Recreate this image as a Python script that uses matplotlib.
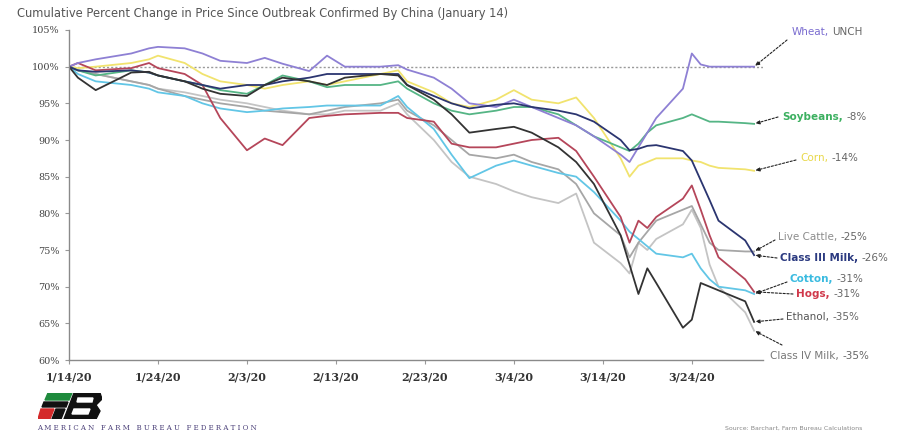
import matplotlib
matplotlib.use("Agg")
import matplotlib.pyplot as plt
from matplotlib.patches import Polygon
import pandas as pd

# trading dates (sampled) from the outbreak confirmation to end of March
dates = ["2020-01-14", "2020-01-15", "2020-01-17", "2020-01-21", "2020-01-23", "2020-01-24",
         "2020-01-27", "2020-01-29", "2020-01-31", "2020-02-03", "2020-02-05", "2020-02-07",
         "2020-02-10", "2020-02-12", "2020-02-14", "2020-02-18", "2020-02-20", "2020-02-21",
         "2020-02-24", "2020-02-26", "2020-02-28", "2020-03-02", "2020-03-04", "2020-03-06",
         "2020-03-09", "2020-03-11", "2020-03-13", "2020-03-16", "2020-03-17", "2020-03-18",
         "2020-03-19", "2020-03-20", "2020-03-23", "2020-03-24", "2020-03-25", "2020-03-26",
         "2020-03-27", "2020-03-30", "2020-03-31"]

wheat = [100, 100.5, 101, 101.8, 102.5, 102.7, 102.5, 101.8, 100.8, 100.5, 101.2, 100.4,
         99.4, 101.5, 100.0, 100.0, 100.2, 99.6, 98.5, 97.0, 95.0, 94.5, 95.5, 94.5,
         93.0, 92.0, 90.5, 88.0, 87.0, 89.0, 91.0, 93.0, 97.0, 101.8, 100.3, 100.0,
         100.0, 100.0, 100.0]
soybeans = [100, 99.5, 98.8, 99.5, 99.2, 98.8, 98.0, 97.5, 96.8, 96.3, 97.5, 98.8,
            98.0, 97.2, 97.5, 97.5, 98.0, 97.0, 95.0, 94.0, 93.5, 94.0, 94.5, 94.5,
            93.5, 92.0, 90.5, 89.0, 88.5, 89.5, 91.0, 92.0, 93.0, 93.5, 93.0, 92.5,
            92.5, 92.3, 92.2]
corn = [100, 99.8, 100.0, 100.5, 101.0, 101.5, 100.5, 99.0, 98.0, 97.5, 97.0, 97.5,
        98.0, 97.5, 98.0, 99.0, 99.5, 98.0, 96.5, 95.0, 94.5, 95.5, 96.8, 95.5,
        95.0, 95.8, 93.0, 87.5, 85.0, 86.5, 87.0, 87.5, 87.5, 87.2, 87.0, 86.5,
        86.2, 86.0, 85.8]
live_cattle = [100, 99.5, 99.0, 98.0, 97.5, 97.0, 96.0, 95.5, 95.0, 94.5, 94.0, 93.8,
               93.5, 94.0, 94.5, 95.0, 95.5, 94.0, 92.0, 90.0, 88.0, 87.5, 88.0, 87.0,
               86.0, 84.0, 80.0, 77.0, 74.0, 76.0, 77.5, 79.0, 80.5, 81.0, 78.5, 76.0,
               75.0, 74.8, 74.8]
class3_milk = [100, 99.5, 99.3, 99.5, 99.2, 98.8, 98.0, 97.5, 97.0, 97.5, 97.5, 98.0,
               98.5, 99.0, 99.0, 99.0, 99.0, 97.5, 96.0, 95.0, 94.3, 94.8, 95.0, 94.5,
               94.0, 93.5, 92.5, 90.0, 88.6, 88.8, 89.2, 89.3, 88.5, 87.2, 84.5, 81.8,
               79.0, 76.3, 74.3]
cotton = [100, 99.0, 98.0, 97.5, 97.0, 96.5, 96.0, 95.0, 94.3, 93.8, 94.0, 94.3,
          94.5, 94.7, 94.7, 94.7, 96.0, 94.5, 91.5, 88.0, 84.8, 86.5, 87.2, 86.5,
          85.5, 85.0, 82.9, 79.0, 77.5, 76.5, 75.5, 74.5, 74.0, 74.5, 72.5, 71.0,
          70.0, 69.5, 69.0]
hogs = [100, 100.5, 99.5, 99.8, 100.5, 99.8, 99.0, 97.5, 93.0, 88.6, 90.2, 89.3,
        93.0, 93.3, 93.5, 93.7, 93.7, 93.0, 92.5, 89.5, 89.0, 89.0, 89.5, 90.0,
        90.3, 88.5, 85.0, 79.5, 76.0, 79.0, 78.0, 79.5, 82.0, 83.8, 80.5, 77.0,
        74.0, 71.0, 69.3]
ethanol = [100, 98.5, 96.8, 99.2, 99.3, 98.8, 98.0, 97.0, 96.3, 96.0, 97.5, 98.5,
           98.0, 97.5, 98.5, 99.0, 98.8, 97.5, 95.5, 93.5, 91.0, 91.5, 91.8, 91.0,
           89.0, 87.0, 84.0, 77.0, 73.0, 69.0, 72.5, 70.5, 64.4, 65.5, 70.5, 70.0,
           69.5, 68.0, 65.2]
class4_milk = [100, 99.5, 99.0, 98.0, 97.5, 97.0, 96.5, 96.0, 95.5, 95.0, 94.5, 94.0,
               93.5, 93.5, 94.0, 94.0, 95.0, 93.5, 90.0, 87.0, 85.0, 84.0, 83.0, 82.2,
               81.4, 82.7, 76.0, 73.2, 71.8, 76.0, 75.0, 76.5, 78.5, 80.5, 78.0, 73.0,
               70.0, 66.5, 64.0]

series = [
    ("Class IV Milk", class4_milk, "#c4c4c4", "Class IV Milk,", "-35%"),
    ("Live Cattle", live_cattle, "#a6a6a6", "Live Cattle,", "-25%"),
    ("Cotton", cotton, "#62c6e6", "Cotton,", "-31%"),
    ("Corn", corn, "#f1e36e", "Corn,", "-14%"),
    ("Hogs", hogs, "#b5465a", "Hogs,", "-31%"),
    ("Soybeans", soybeans, "#55b585", "Soybeans,", "-8%"),
    ("Wheat", wheat, "#8e80d4", "Wheat,", "UNCH"),
    ("Class III Milk", class3_milk, "#2b3570", "Class III Milk,", "-26%"),
    ("Ethanol", ethanol, "#333333", "Ethanol,", "-35%"),
]

tick_dates = ["2020-01-14", "2020-01-24", "2020-02-03", "2020-02-13", "2020-02-23",
              "2020-03-04", "2020-03-14", "2020-03-24"]
tick_labels = ["1/14/20", "1/24/20", "2/3/20", "2/13/20", "2/23/20", "3/4/20", "3/14/20", "3/24/20"]
y_ticks = [60, 65, 70, 75, 80, 85, 90, 95, 100, 105]

x = pd.to_datetime(dates)

fig = plt.figure(figsize=(9.02, 4.33), dpi=100)
ax = fig.add_axes([69 / 902, 1 - 360 / 433, (763 - 69) / 902, 330 / 433])

ax.axhline(100, color="#9a9a9a", lw=1.0, ls=(0, (1.5, 1.5)), zorder=1)
for name, vals, col, lab, val in series:
    ax.plot(x, vals, color=col, lw=1.3, zorder=2)

ax.set_ylim(60, 105)
ax.set_xlim(pd.Timestamp("2020-01-14"), pd.Timestamp("2020-04-01"))
ax.set_yticks(y_ticks)
ax.set_yticklabels([f"{v}%" for v in y_ticks], fontsize=7, family="DejaVu Serif", color="#444444")
ax.set_xticks(pd.to_datetime(tick_dates))
ax.set_xticklabels(tick_labels, fontsize=8, family="DejaVu Serif", fontweight="bold", color="#333333")
ax.tick_params(axis="y", length=3, color="#999999", pad=4)
ax.tick_params(axis="x", length=3, color="#999999", pad=5)
for s in ["top", "right"]:
    ax.spines[s].set_visible(False)
for s in ["left", "bottom"]:
    ax.spines[s].set_color("#8a8a8a")
    ax.spines[s].set_linewidth(1.0)

# right-side labels: text position and pointer start, in figure pixels
label_pos = {
    "Wheat": (792, 401),
    "Soybeans": (782, 316),
    "Corn": (800, 275),
    "Live Cattle": (778, 196),
    "Class III Milk": (780, 175),
    "Cotton": (790, 154),
    "Hogs": (796, 139),
    "Ethanol": (786, 116),
    "Class IV Milk": (770, 77),
}
arrow_start = {
    "Wheat": (787, 393),
    "Soybeans": (778, 316),
    "Corn": (796, 273),
    "Live Cattle": (775, 193),
    "Class III Milk": (777, 175),
    "Cotton": (787, 151),
    "Hogs": (793, 139),
    "Ethanol": (783, 114),
    "Class IV Milk": (782, 88),
}
name_color = {
    "Wheat": "#7a6cd0", "Soybeans": "#3cb060", "Corn": "#e8d84a", "Live Cattle": "#8c8c8c",
    "Class III Milk": "#2b3a80", "Cotton": "#3bbbe0", "Hogs": "#d0384a",
    "Ethanol": "#555555", "Class IV Milk": "#777777",
}
bold_names = {"Soybeans", "Class III Milk", "Cotton", "Hogs"}

for name, vals, col, lab, val in series:
    tx, ty = label_pos[name]
    t1 = fig.text(tx / 902, ty / 433, lab, fontsize=7.5, color=name_color[name],
                  fontweight="bold" if name in bold_names else "normal",
                  ha="left", va="center")
    ax.annotate(val, xy=(1, 0.5), xycoords=t1, xytext=(2.5, 0), textcoords="offset points",
                fontsize=7.5, color="#666666", ha="left", va="center", annotation_clip=False)
    ax.annotate("", xy=(x[-1], vals[-1]), xycoords="data",
                xytext=arrow_start[name], textcoords="figure pixels", annotation_clip=False,
                arrowprops=dict(arrowstyle="-|>", color="#222222", lw=0.8,
                                ls=(0, (2, 1.5)), mutation_scale=6,
                                shrinkA=0, shrinkB=1))

fig.text(17 / 902, 1 - 14 / 433,
         "Cumulative Percent Change in Price Since Outbreak Confirmed By China (January 14)",
         fontsize=8.3, color="#555555", ha="left", va="center")

# AFBF logo (rough shapes)
lax = fig.add_axes([38 / 902, 14 / 433, 64 / 902, 26 / 433])
lax.set_xlim(0, 64)
lax.set_ylim(0, 26)
lax.axis("off")
lax.add_patch(Polygon([[10, 26], [34, 26], [31, 19], [7, 19]], color="#1e8a3c"))
lax.add_patch(Polygon([[6, 17], [30, 17], [28, 12], [4, 12]], color="#111111"))
lax.add_patch(Polygon([[3, 10], [16, 10], [12, 0], [0, 0]], color="#d42a2a"))
lax.add_patch(Polygon([[18, 10], [27, 10], [23, 0], [14, 0]], color="#111111"))
lax.add_patch(Polygon([[36, 26], [62, 26], [64, 20], [58, 14], [62, 8], [58, 0], [26, 0]],
                      color="#111111"))
lax.add_patch(Polygon([[40, 21], [55, 21], [54, 17], [39, 17]], color="white"))
lax.add_patch(Polygon([[36, 10], [52, 10], [50, 5], [34, 5]], color="white"))

fig.text(37 / 902, 1 - 428 / 433, " ".join("AMERICAN FARM BUREAU FEDERATION"),
         fontsize=5, family="DejaVu Serif", color="#4a3f78", ha="left", va="center")
fig.text(725 / 902, 1 - 428 / 433, "Source: Barchart, Farm Bureau Calculations",
         fontsize=4.5, color="#888888", ha="left", va="center")

fig.savefig("out.png", dpi=100, facecolor="white")
